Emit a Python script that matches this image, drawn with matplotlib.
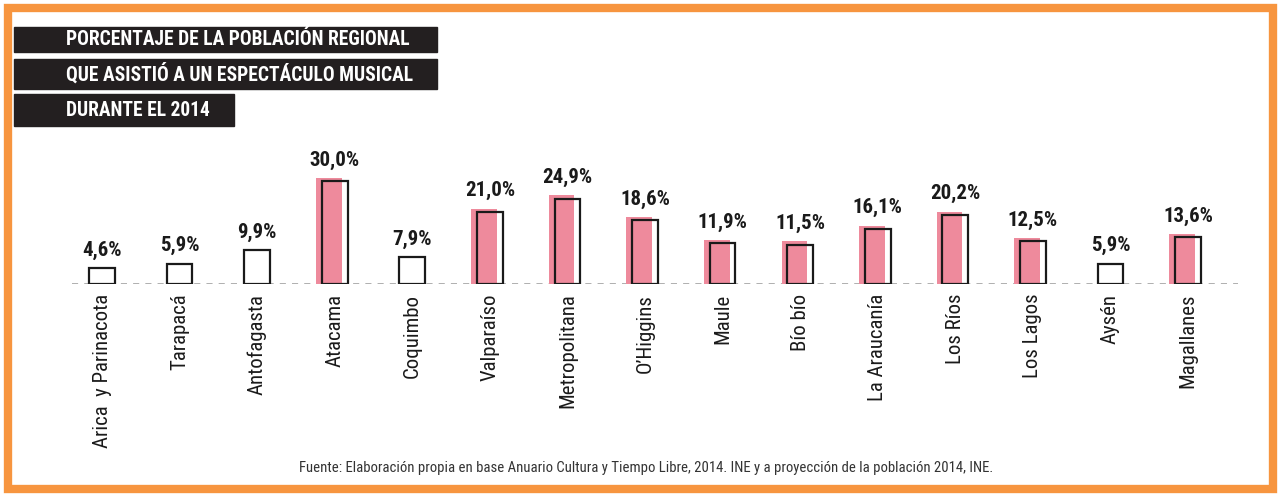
import matplotlib
matplotlib.use("Agg")
import matplotlib.pyplot as plt
from matplotlib.patches import Rectangle
from matplotlib import font_manager as fm

# datos
regiones = ["Arica  y Parinacota", "Tarapacá", "Antofagasta", "Atacama", "Coquimbo",
            "Valparaíso", "Metropolitana", "O’Higgins", "Maule", "Bío bío",
            "La Araucanía", "Los Ríos", "Los Lagos", "Aysén", "Magallanes"]
porcentajes = [4.6, 5.9, 9.9, 30.0, 7.9, 21.0, 24.9, 18.6, 11.9, 11.5, 16.1, 20.2, 12.5, 5.9, 13.6]
destacado = [False, False, False, True, False, True, True, True, True, True, True, True, True, False, True]

titulo = ["PORCENTAJE DE LA POBLACIÓN REGIONAL",
          "QUE ASISTIÓ A UN ESPECTÁCULO MUSICAL",
          "DURANTE EL 2014"]
fuente = "Fuente: Elaboración propia en base Anuario Cultura y Tiempo Libre, 2014. INE y a proyección de la población 2014, INE."


def buscar_fuente(claves):
    # busca un archivo de fuente angosta instalada
    for clave in claves:
        for f in fm.fontManager.ttflist:
            if clave.lower() in f.fname.lower().replace(" ", "").replace("_", ""):
                return f.fname
    return None


f_reg = buscar_fuente(["RobotoCondensed-Regular", "LiberationSansNarrow-Regular", "DejaVuSansCondensed.ttf"])
f_bold = buscar_fuente(["RobotoCondensed-Bold", "LiberationSansNarrow-Bold.", "DejaVuSansCondensed-Bold.ttf"])


def prop(bold=False):
    fn = f_bold if bold else f_reg
    if fn:
        return fm.FontProperties(fname=fn)
    return fm.FontProperties(family=["Liberation Sans", "DejaVu Sans"],
                             weight="bold" if bold else "normal")


ROSA = "#EE8A9C"
NARANJA = "#F7953F"

W, H = 1281, 497
fig = plt.figure(figsize=(W / 100, H / 100), dpi=100)
renderer = fig.canvas.get_renderer()


def ajustar(textos, largo_px, vertical=False):
    # escala el tamaño para que el primer texto mida largo_px
    bb = textos[0].get_window_extent(renderer)
    actual = bb.height if vertical else bb.width
    nuevo = textos[0].get_fontsize() * largo_px / actual
    for t in textos:
        t.set_fontsize(nuevo)


# marco naranja
fig.patches.append(Rectangle((8 / W, 8 / H), 1 - 16 / W, 1 - 16 / H, transform=fig.transFigure,
                             fill=False, edgecolor=NARANJA, linewidth=6))

# ejes (en px de la figura)
ax_left, ax_right, ax_base, ax_top = 72, 1238, 284, 150
ax = fig.add_axes([ax_left / W, 1 - ax_base / H, (ax_right - ax_left) / W, (ax_base - ax_top) / H])
ax.set_facecolor("none")
px_unit = (1188 - 102) / 14
ax.set_xlim((ax_left - 102) / px_unit, 14 + (ax_right - 1188) / px_unit)
px_pct = 103 / 30
ax.set_ylim(0, (ax_base - ax_top) / px_pct)

x = list(range(len(regiones)))
ancho = 0.33
etiquetas = []
for xi, v, d in zip(x, porcentajes, destacado):
    if d:
        ax.bar(xi - 0.075, v + 0.9, width=ancho, color=ROSA, linewidth=0, zorder=2)
    ax.bar(xi, v, width=ancho, facecolor="none" if d else "white", edgecolor="#1a1a1a",
           linewidth=1.6, zorder=3)
    etiquetas.append(ax.annotate(f"{v:.1f}%".replace(".", ","), (xi, v + (0.9 if d else 0)),
                                 xytext=(0, 6), textcoords="offset points", ha="center", va="bottom",
                                 fontsize=12, fontproperties=prop(True), color="#1a1a1a"))
etiquetas[3].set_fontsize(12)
orden = [3] + [i for i in range(len(etiquetas)) if i != 3]
ajustar([etiquetas[i] for i in orden], 50)

ax.axhline(0, color="#9a9a9a", linestyle=(0, (4, 4)), linewidth=1.1, zorder=1)
ax.set_xticks(x)
ticks = ax.set_xticklabels(regiones, rotation=90, fontproperties=prop(False), color="#1a1a1a")
for t in ticks:
    t.set_fontsize(13)
ax.tick_params(axis="x", length=0, pad=7)
ajustar(ticks, 153, vertical=True)
ax.set_yticks([])
for s in ax.spines.values():
    s.set_visible(False)

# título en cajas negras
cajas = [(14, 437, 27, 52), (14, 437, 59, 89), (14, 234, 94, 126)]
lineas = []
for (x0, x1, y0, y1), linea in zip(cajas, titulo):
    fig.patches.append(Rectangle((x0 / W, 1 - y1 / H), (x1 - x0) / W, (y1 - y0) / H,
                                 transform=fig.transFigure, color="#231f20"))
    lineas.append(fig.text(66 / W, 1 - (y0 + y1) / 2 / H, linea, color="white", fontsize=14,
                           fontproperties=prop(True), va="center", ha="left"))
for t in lineas:
    t.set_fontsize(14)
ajustar(lineas, 345)

nota = fig.text(646 / W, 1 - 468 / H, fuente, ha="center", va="center",
                fontproperties=prop(False), color="#333333")
nota.set_fontsize(9.5)
ajustar([nota], 697)

fig.savefig("out.png", dpi=100)
